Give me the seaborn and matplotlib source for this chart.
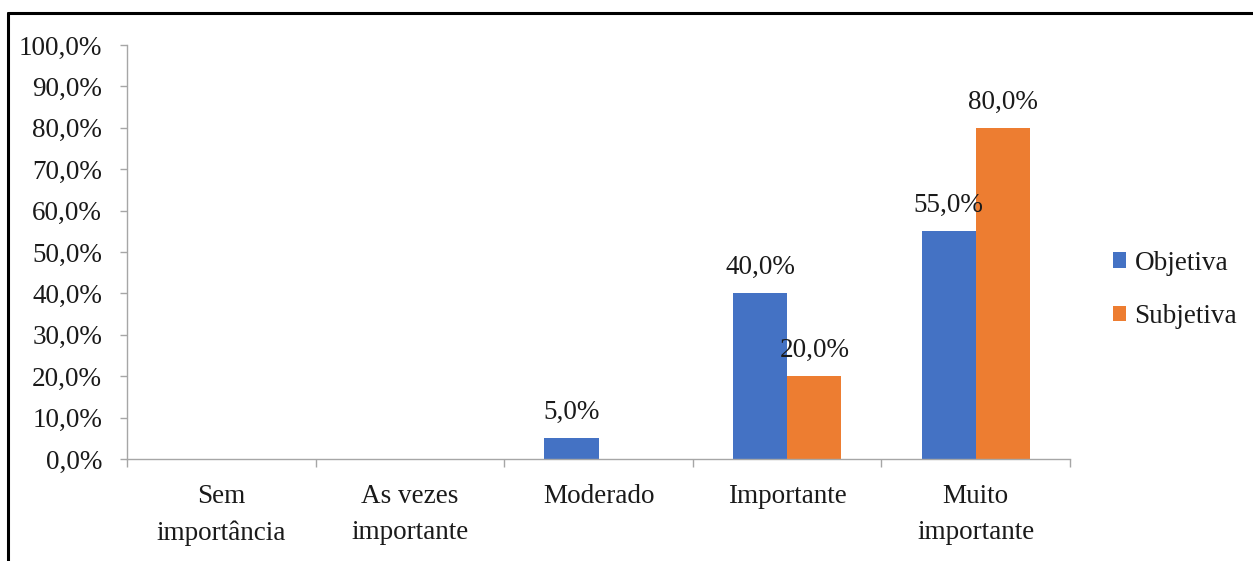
import matplotlib
matplotlib.use("Agg")
import matplotlib.pyplot as plt
from matplotlib.lines import Line2D
from matplotlib.ticker import FuncFormatter, FixedLocator
import seaborn as sns
import pandas as pd

# Response categories and percentages per evaluation type
categories = ["Sem\nimportância", "As vezes\nimportante", "Moderado", "Importante", "Muito\nimportante"]
objetiva = [0.0, 0.0, 0.05, 0.40, 0.55]
subjetiva = [0.0, 0.0, 0.0, 0.20, 0.80]
series_names = ["Objetiva", "Subjetiva"]
y_ticks = [i / 10 for i in range(11)]

df = pd.DataFrame({
    "categoria": categories * 2,
    "valor": objetiva + subjetiva,
    "tipo": [series_names[0]] * len(categories) + [series_names[1]] * len(categories),
})

sns.set_style("white")
plt.rcParams["font.family"] = ["Liberation Serif", "DejaVu Serif"]
plt.rcParams["font.size"] = 19.5

fig = plt.figure(figsize=(12.53, 5.61), dpi=100)
ax = fig.add_axes([0.1014, 0.1818, 0.7526, 0.738])

palette = {"Objetiva": "#4472C4", "Subjetiva": "#ED7D31"}
sns.barplot(data=df, x="categoria", y="valor", hue="tipo", order=categories,
            hue_order=series_names, palette=palette, width=0.575,
            saturation=1, linewidth=0, ax=ax, legend=True)

# Value labels above non-zero bars
for cont in ax.containers:
    vals = [b.get_height() for b in cont]
    labels = [("" if v == 0 else f"{v * 100:.1f}%".replace(".", ",")) for v in vals]
    ax.bar_label(cont, labels=labels, padding=9.5, fontsize=19.5, color="#1a1a1a")

ax.set_xlim(-0.5, len(categories) - 0.5)
ax.set_ylim(0, 1.0)
ax.set_yticks(y_ticks)
ax.yaxis.set_major_formatter(FuncFormatter(lambda v, p: f"{v * 100:.1f}%".replace(".", ",")))
ax.set_xlabel("")
ax.set_ylabel("")

axis_color = "#a6a6a6"
for s in ["top", "right"]:
    ax.spines[s].set_visible(False)
for s in ["left", "bottom"]:
    ax.spines[s].set_color(axis_color)
    ax.spines[s].set_linewidth(1.0)

# Category boundary ticks along the x axis
ax.xaxis.set_minor_locator(FixedLocator([i - 0.5 for i in range(len(categories) + 1)]))
ax.tick_params(axis="x", which="minor", length=6, width=1.0, color=axis_color, direction="out", bottom=True)
ax.tick_params(axis="x", which="major", length=0, pad=18, labelsize=19.5, colors="#1a1a1a")
ax.tick_params(axis="y", which="major", length=5, width=1.0, color=axis_color, direction="out",
               left=True, pad=13, labelsize=19.5, labelcolor="#1a1a1a")
for lab in ax.get_xticklabels():
    lab.set_linespacing(1.6)

leg = ax.legend(loc="center left", bbox_to_anchor=(0.8795, 0.483), bbox_transform=fig.transFigure,
                frameon=False, fontsize=19.5, handlelength=0.5, handleheight=0.5,
                handletextpad=0.3, labelspacing=1.05, borderaxespad=0)
for t in leg.get_texts():
    t.set_color("#1a1a1a")

# Outer frame lines (top and left)
fig.add_artist(Line2D([0.006, 1.0], [0.976, 0.976], transform=fig.transFigure, color="black", lw=2.2))
fig.add_artist(Line2D([0.006, 0.006], [0.0, 0.976], transform=fig.transFigure, color="black", lw=2.2))

fig.savefig("out.png", dpi=100)
